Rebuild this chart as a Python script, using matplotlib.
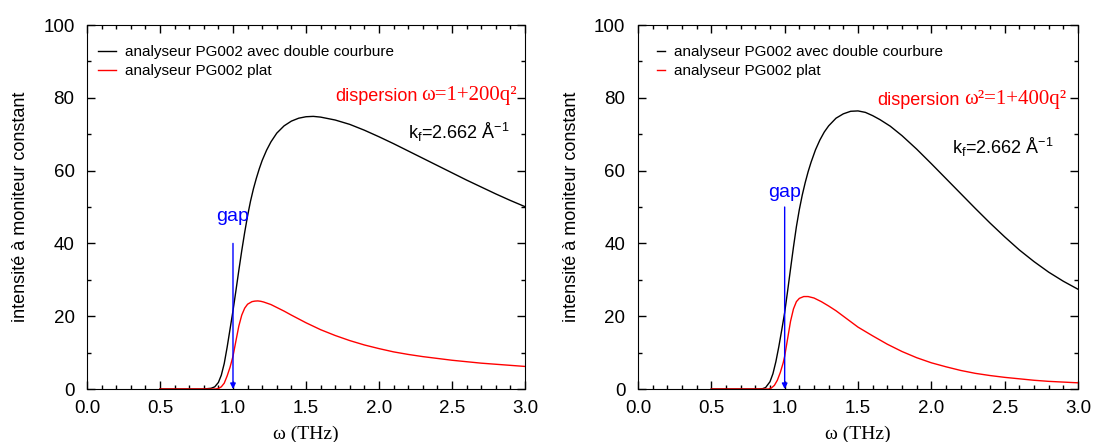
import numpy as np
import matplotlib
matplotlib.use('Agg')
import matplotlib.pyplot as plt
from matplotlib.ticker import MultipleLocator, FormatStrFormatter

plt.rcParams['font.family'] = ['Liberation Sans', 'DejaVu Sans']
plt.rcParams['mathtext.fontset'] = 'custom'
plt.rcParams['mathtext.rm'] = 'Liberation Sans'
plt.rcParams['mathtext.it'] = 'Liberation Sans:italic'
plt.rcParams['mathtext.bf'] = 'Liberation Sans:bold'

# left panel : dispersion w = 1 + 200 q^2
x_left_double = [0.50, 0.80, 0.85, 0.875, 0.90, 0.92, 0.94, 0.96, 0.98, 1.00, 1.02, 1.04, 1.06,
                 1.08, 1.10, 1.12, 1.14, 1.16, 1.18, 1.20, 1.23, 1.26, 1.30, 1.35, 1.40, 1.45,
                 1.50, 1.55, 1.60, 1.70, 1.80, 1.90, 2.00, 2.10, 2.20, 2.30, 2.40, 2.50, 2.60,
                 2.70, 2.80, 2.90, 3.00]
y_left_double = [0, 0, 0.2, 0.6, 1.8, 3.8, 7.0, 11.5, 16.5, 21.5, 27.0, 32.6, 38.0,
                 43.0, 47.6, 51.6, 55.0, 57.9, 60.5, 62.8, 65.6, 67.9, 70.3, 72.3, 73.6, 74.4,
                 74.8, 74.9, 74.7, 73.9, 72.7, 71.1, 69.3, 67.4, 65.4, 63.4, 61.4, 59.4, 57.4,
                 55.5, 53.6, 51.8, 50.1]
x_left_plat = [0.50, 0.88, 0.90, 0.92, 0.94, 0.96, 0.98, 1.00, 1.02, 1.04, 1.06, 1.08, 1.10,
               1.13, 1.15, 1.17, 1.19, 1.21, 1.26, 1.30, 1.35, 1.40, 1.50, 1.60, 1.70, 1.80,
               1.90, 2.00, 2.10, 2.20, 2.30, 2.40, 2.50, 2.60, 2.70, 2.80, 2.90, 3.00]
y_left_plat = [0, 0, 0.15, 0.6, 1.6, 3.6, 6.0, 9.0, 13.2, 17.3, 20.3, 22.2, 23.3,
               24.0, 24.15, 24.2, 24.1, 23.9, 23.2, 22.4, 21.4, 20.3, 18.2, 16.3, 14.7, 13.3,
               12.1, 11.1, 10.2, 9.5, 8.9, 8.4, 7.9, 7.5, 7.1, 6.8, 6.5, 6.2]

# right panel : dispersion w^2 = 1 + 400 q^2
x_right_double = [0.50, 0.82, 0.85, 0.87, 0.90, 0.92, 0.94, 0.96, 0.98, 1.00, 1.02, 1.04, 1.06,
                  1.08, 1.10, 1.12, 1.14, 1.16, 1.18, 1.21, 1.24, 1.27, 1.30, 1.35, 1.40, 1.45,
                  1.50, 1.55, 1.60, 1.65, 1.72, 1.80, 1.90, 2.00, 2.10, 2.20, 2.30, 2.40, 2.50,
                  2.60, 2.70, 2.80, 2.90, 3.00]
y_right_double = [0, 0, 0.1, 0.4, 2.0, 4.2, 7.5, 11.6, 16.2, 21.0, 26.9, 33.0, 39.0,
                  44.6, 49.3, 53.3, 56.7, 59.7, 62.3, 65.7, 68.4, 70.6, 72.3, 74.4, 75.6, 76.3,
                  76.4, 76.0, 75.1, 74.0, 72.2, 69.6, 65.9, 61.9, 57.8, 53.7, 49.6, 45.6, 41.8,
                  38.2, 35.0, 32.1, 29.6, 27.4]
x_right_plat = [0.50, 0.89, 0.91, 0.93, 0.95, 0.97, 0.99, 1.00, 1.02, 1.04, 1.06, 1.08, 1.10,
                1.13, 1.16, 1.20, 1.25, 1.30, 1.35, 1.40, 1.45, 1.50, 1.60, 1.70, 1.80, 1.90,
                2.00, 2.10, 2.20, 2.30, 2.40, 2.50, 2.60, 2.70, 2.80, 2.90, 3.00]
y_right_plat = [0, 0, 0.3, 1.0, 2.4, 4.5, 7.2, 9.0, 13.8, 18.6, 22.0, 24.0, 24.9,
                25.4, 25.4, 25.0, 24.0, 22.8, 21.5, 20.0, 18.5, 17.0, 14.6, 12.3, 10.3, 8.6,
                7.2, 6.1, 5.1, 4.3, 3.7, 3.2, 2.8, 2.4, 2.1, 1.9, 1.7]

label_double = "analyseur PG002 avec double courbure"
label_plat = "analyseur PG002 plat"
gap_omega = 1.0

fig = plt.figure(figsize=(10.93, 4.42), dpi=100)
ax1 = fig.add_axes([0.0796, 0.1199, 0.4007, 0.8235])
ax2 = fig.add_axes([0.5837, 0.1199, 0.4026, 0.8235])

panels = [
    (ax1, x_left_double, y_left_double, x_left_plat, y_left_plat,
     'ω=1+200q²', (2.945, 79.3), (2.20, 70.5), 40, 47.5, 0.025, 1.2),
    (ax2, x_right_double, y_right_double, x_right_plat, y_right_plat,
     'ω²=1+400q²', (2.92, 78.2), (2.14, 66.4), 50, 54.0, 0.043, 0.55),
]

for ax, xd, yd, xp, yp, disp, disp_pos, kf_pos, arrow_top, gap_y, leg_x, hlen in panels:
    ax.plot(xd, yd, color='black', lw=1.0, label=label_double)
    ax.plot(xp, yp, color='red', lw=1.0, label=label_plat)

    ax.set_xlim(0, 3)
    ax.set_ylim(0, 100)
    ax.xaxis.set_major_locator(MultipleLocator(0.5))
    ax.xaxis.set_minor_locator(MultipleLocator(0.1))
    ax.xaxis.set_major_formatter(FormatStrFormatter('%.1f'))
    ax.yaxis.set_major_locator(MultipleLocator(20))
    ax.yaxis.set_minor_locator(MultipleLocator(10))
    ax.tick_params(which='both', direction='in', top=True, right=True, labelsize=13.5)
    ax.tick_params(which='major', length=6, width=1)
    ax.tick_params(which='minor', length=3, width=1)
    ax.tick_params(axis='x', pad=8)
    ax.tick_params(axis='y', pad=9)

    ax.set_xlabel('ω (THz)', fontfamily='Liberation Serif', fontsize=14, labelpad=6)
    ax.set_ylabel('intensité à moniteur constant', fontsize=13, labelpad=10)

    ax.legend(loc='upper left', bbox_to_anchor=(leg_x, 0.944), frameon=False,
              fontsize=11, handlelength=hlen, handletextpad=0.6,
              labelspacing=0.3, borderaxespad=0, borderpad=0)

    # serif formula, with "dispersion" in sans placed just to its left
    formula = ax.text(disp_pos[0], disp_pos[1], disp, color='red', fontsize=15,
                      fontfamily='Liberation Serif', ha='right', va='baseline')
    ax.annotate('dispersion', xy=(0, 0), xycoords=formula, xytext=(-3, 0),
                textcoords='offset points', color='red', fontsize=13,
                ha='right', va='bottom')

    ax.text(kf_pos[0], kf_pos[1], r'k$_\mathrm{f}$=2.662 Å$^{-1}$', color='black',
            fontsize=13, ha='left', va='center')

    ax.annotate('', xy=(gap_omega, 0), xytext=(gap_omega, arrow_top),
                arrowprops=dict(arrowstyle='-|>', color='blue', lw=1.0,
                                mutation_scale=8, shrinkA=0, shrinkB=0))
    ax.text(gap_omega, gap_y, 'gap', color='blue', fontsize=14, ha='center', va='center')

fig.savefig('out.png', dpi=100)
